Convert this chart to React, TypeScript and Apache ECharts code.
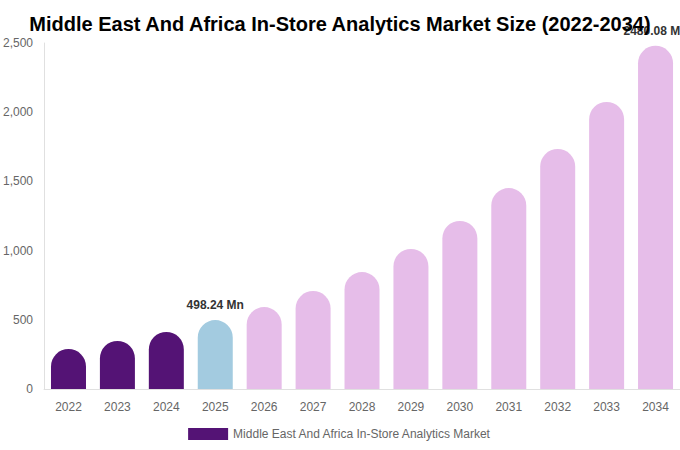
import { useEffect, useRef } from "react";
import * as echarts from "echarts";

const years = ["2022", "2023", "2024", "2025", "2026", "2027", "2028", "2029", "2030", "2031", "2032", "2033", "2034"];
const marketSize = [289, 347, 412, 498.24, 592, 708, 845, 1012, 1214, 1452, 1734, 2074, 2480.08];
const labelledYears = ["2025", "2034"];

const HIST = "#541375";
const BASE = "#a3cbe0";
const FORECAST = "#e6bde9";

function barColor(year: string) {
  const y = Number(year);
  if (y < 2025) return HIST;
  if (y === 2025) return BASE;
  return FORECAST;
}

export default function App() {
  const ref = useRef<HTMLDivElement | null>(null);

  useEffect(() => {
    document.body.style.margin = "0";
    if (!ref.current) return;
    const chart = echarts.init(ref.current, undefined, { renderer: "svg" });
    chart.setOption({
      animation: false,
      textStyle: { fontFamily: "Liberation Sans, Arial, sans-serif" },
      title: {
        text: "Middle East And Africa In-Store Analytics Market Size (2022-2034)",
        left: "center",
        top: 9,
        textStyle: { fontSize: 20, fontWeight: "bold", color: "#000" },
      },
      legend: {
        bottom: 5,
        left: "center",
        icon: "rect",
        itemWidth: 40,
        itemHeight: 12,
        itemGap: 5,
        textStyle: { color: "#666", fontSize: 12 },
        data: [{ name: "Middle East And Africa In-Store Analytics Market", itemStyle: { color: HIST } }],
      },
      grid: { left: 44, right: 0, top: 43, bottom: 61, containLabel: false },
      xAxis: {
        type: "category",
        data: years,
        axisLine: { lineStyle: { color: "#e0e0e0" } },
        axisTick: { show: false },
        axisLabel: { color: "#666", fontSize: 12, margin: 12 },
      },
      yAxis: {
        type: "value",
        min: 0,
        max: 2500,
        interval: 500,
        axisLine: { show: true, lineStyle: { color: "#e0e0e0" } },
        axisTick: { show: false },
        splitLine: { show: false },
        axisLabel: {
          color: "#666",
          fontSize: 12,
          margin: 11,
          formatter: (v: number) => v.toLocaleString("en-US"),
        },
      },
      series: [
        {
          name: "Middle East And Africa In-Store Analytics Market",
          type: "bar",
          barWidth: 35,
          itemStyle: { color: HIST },
          data: marketSize.map((v, i) => ({
            value: v,
            itemStyle: { color: barColor(years[i]), borderRadius: [18, 18, 0, 0] },
            label: {
              show: labelledYears.includes(years[i]),
              position: "top",
              distance: 9,
              formatter: (p: any) => `${p.value} Mn`,
              fontWeight: "bold",
              fontSize: 12,
              color: "#333",
            },
          })),
        },
      ],
    });
    return () => chart.dispose();
  }, []);

  return <div ref={ref} style={{ width: 680, height: 450 }} />;
}
